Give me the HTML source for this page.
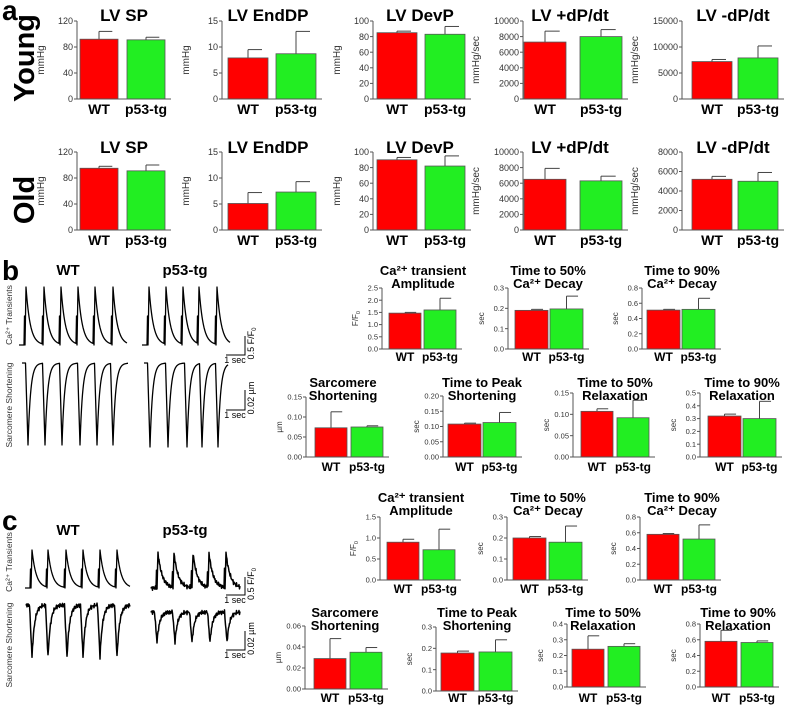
<!DOCTYPE html>
<html><head><meta charset="utf-8"><style>
html,body{margin:0;padding:0;background:#fff;}
svg{display:block;font-family:"Liberation Sans",Arial,sans-serif;}
</style></head><body>
<svg id="fig" width="790" height="707" viewBox="0 0 790 707" xmlns="http://www.w3.org/2000/svg"></svg>
<script>
// ---------- DATA ----------
const categories = ['WT', 'p53-tg'];
// Panel a – young
const youngTitles = ['LV SP', 'LV EndDP', 'LV DevP', 'LV +dP/dt', 'LV -dP/dt'];
const youngMeans = [[92, 91], [7.9, 8.7], [85, 83], [7300, 8000], [7200, 7900]];
const youngErrTops = [[104, 95], [9.5, 13], [87, 93], [8700, 8900], [7600, 10200]];
const youngTicks = [[0, 40, 80, 120], [0, 5, 10, 15], [0, 20, 40, 60, 80, 100], [0, 2000, 4000, 6000, 8000, 10000], [0, 5000, 10000, 15000]];
// Panel a – old
const oldTitles = ['LV SP', 'LV EndDP', 'LV DevP', 'LV +dP/dt', 'LV -dP/dt'];
const oldMeans = [[95, 91], [5.1, 7.3], [90, 82], [6500, 6300], [5200, 5000]];
const oldErrTops = [[98, 100], [7.2, 9.3], [93, 95], [7900, 6900], [5500, 5900]];
const oldTicks = [[0, 40, 80, 120], [0, 5, 10, 15], [0, 20, 40, 60, 80, 100], [0, 2000, 4000, 6000, 8000, 10000], [0, 2000, 4000, 6000, 8000]];
const aUnits = ['mmHg', 'mmHg', 'mmHg', 'mmHg/sec', 'mmHg/sec'];
// Panel b
const bMeans = [[1.47, 1.6], [0.19, 0.197], [0.51, 0.52], [0.073, 0.075], [0.108, 0.113], [0.107, 0.092], [0.32, 0.30]];
const bErrTops = [[1.5, 2.08], [0.195, 0.26], [0.52, 0.665], [0.113, 0.078], [0.111, 0.146], [0.113, 0.133], [0.335, 0.435]];
const bTicks = [['0.0','0.5','1.0','1.5','2.0','2.5'], ['0.0','0.1','0.2','0.3'], ['0.0','0.2','0.4','0.6','0.8'], ['0.00','0.05','0.10','0.15'], ['0.00','0.05','0.10','0.15','0.20'], ['0.00','0.05','0.10','0.15'], ['0.0','0.1','0.2','0.3','0.4','0.5']];
// Panel c
const cMeans = [[0.9, 0.72], [0.2, 0.18], [0.58, 0.52], [0.029, 0.035], [0.178, 0.183], [0.24, 0.258], [0.58, 0.565]];
const cErrTops = [[0.97, 1.21], [0.207, 0.257], [0.59, 0.70], [0.048, 0.0395], [0.187, 0.24], [0.325, 0.275], [0.72, 0.585]];
const cTicks = [['0.0','0.5','1.0','1.5'], ['0.0','0.1','0.2','0.3'], ['0.0','0.2','0.4','0.6','0.8'], ['0.00','0.02','0.04','0.06'], ['0.0','0.1','0.2','0.3'], ['0.0','0.1','0.2','0.3','0.4'], ['0.0','0.2','0.4','0.6','0.8']];
const bcTitles = [['Ca²⁺ transient','Amplitude'], ['Time to 50%','Ca²⁺ Decay'], ['Time to 90%','Ca²⁺ Decay'], ['Sarcomere','Shortening'], ['Time to Peak','Shortening'], ['Time to 50%','Relaxation'], ['Time to 90%','Relaxation']];
const bcUnits = ['F/F0', 'sec', 'sec', 'µm', 'sec', 'sec', 'sec'];
// Trace beat x positions
const bCaWT = [25, 43, 60, 77, 94, 112];
const bCaTG = [148, 165, 182, 198, 216, 232];
const bSarWT = [28, 45, 62, 80, 97, 113];
const bSarTG = [150, 168, 187, 202, 218];
const cCaWT = [31, 47, 65, 82, 99, 116];
const cCaTG = [157, 173, 192, 208, 225];
const cSarWT = [32, 48, 67, 83, 100, 117];
const cSarTG = [157, 175, 192, 210, 227];

// ---------- LAYOUT (pixels) ----------
const aAxisX = [77, 222, 373, 523, 682];
const aRedX = [80, 228, 377, 524, 692];
const aGreenX = [127, 276, 425, 580, 738];
const aBarW = [38, 40, 40, 42, 40];
const aTitleX = [124, 268, 420, 570, 733];

const svg = document.getElementById('fig');
const NS = 'http://www.w3.org/2000/svg';
function mk(tag, attrs, parent) {
  const e = document.createElementNS(NS, tag);
  for (const k in attrs) e.setAttribute(k, attrs[k]);
  (parent || svg).appendChild(e);
  return e;
}
function txt(s, attrs, parent) { const t = mk('text', attrs, parent); t.textContent = s; return t; }

function barChart(o) {
  const g = mk('g', {});
  
  
  const ticks = o.ticks.map(Number);
  const maxV = ticks[ticks.length - 1];
  const y = v => o.bottom - (v / maxV) * (o.bottom - o.top);
  const right = o.gx + o.w + 6;
  const xs = [o.rx, o.gx];
  const fills = ['#ff0000', '#22ee22'];
  for (let i = 0; i < 2; i++) {
    const yt = y(o.means[i]);
    const eb = mk('line', {x1: xs[i] + o.w / 2, x2: xs[i] + o.w / 2, y1: yt, y2: y(o.errs[i]), stroke: '#444', 'stroke-width': 1}, g);
    
    
    const cap = mk('line', {x1: xs[i] + o.w / 2, x2: xs[i] + o.w / 2 + o.w * 0.35, y1: y(o.errs[i]), y2: y(o.errs[i]), stroke: '#444', 'stroke-width': 1}, g);
    
    
    const r = mk('rect', {x: xs[i], y: yt, width: o.w, height: o.bottom - yt, fill: fills[i], stroke: '#555', 'stroke-width': 0.8}, g);
    
    
    const xl = txt(categories[i], {x: xs[i] + o.w / 2, y: o.labY, 'font-size': o.labFs, 'font-weight': 'bold', 'text-anchor': 'middle', fill: '#000'}, g);
    
    
  }
  const ax = mk('path', {d: `M${o.ax},${o.top} V${o.bottom} H${right}`, fill: 'none', stroke: '#555', 'stroke-width': 1}, g);
  
  
  o.ticks.forEach(t => {
    const yy = y(Number(t));
    mk('line', {x1: o.ax - 3, x2: o.ax, y1: yy, y2: yy, stroke: '#555', 'stroke-width': 1}, g);
    const tl = txt(String(t), {x: o.ax - 4, y: yy + o.tickFs * 0.35, 'font-size': o.tickFs, 'text-anchor': 'end', fill: '#333'}, g);
    
    
  });
  const ux = o.unitX, uy = (o.top + o.bottom) / 2;
  const ut = mk('text', {x: ux, y: uy, 'font-size': o.unitFs, 'text-anchor': 'middle', fill: '#333', transform: `rotate(-90 ${ux} ${uy})`}, g);
  if (o.unit === 'F/F0') { ut.textContent = 'F/F'; const s = mk('tspan', {'font-size': o.unitFs * 0.7, dy: 2}, ut); s.textContent = '0'; }
  else ut.textContent = o.unit;
  
  
  o.title.forEach((line, i) => {
    const tt = txt(line, {x: o.tx, y: o.ty + i * o.titleFs * 1.0, 'font-size': o.titleFs, 'font-weight': 'bold', 'text-anchor': 'middle', fill: '#000'}, g);
    
    
  });
}

for (let i = 0; i < 5; i++) {
  barChart({name: 'young-chart-' + (i + 1), ticks: youngTicks[i], means: youngMeans[i], errs: youngErrTops[i], ax: aAxisX[i], rx: aRedX[i], gx: aGreenX[i], w: aBarW[i], top: 21, bottom: 99, labY: 114, labFs: 14, tickFs: 9, unit: aUnits[i], unitX: aAxisX[i] - (i >= 3 ? 44 : 33), unitFs: 10, title: [youngTitles[i]], tx: aTitleX[i], ty: 21, titleFs: 17});
  barChart({name: 'old-chart-' + (i + 1), ticks: oldTicks[i], means: oldMeans[i], errs: oldErrTops[i], ax: aAxisX[i], rx: aRedX[i], gx: aGreenX[i], w: aBarW[i], top: 152, bottom: 230, labY: 245, labFs: 14, tickFs: 9, unit: aUnits[i], unitX: aAxisX[i] - (i >= 3 ? 44 : 33), unitFs: 10, title: [oldTitles[i]], tx: aTitleX[i], ty: 153, titleFs: 17});
}

const bLay = [
  {ax: 382, rx: 389, gx: 424, w: 32, top: 288, bottom: 349, tx: 423, ty: 275, labY: 361},
  {ax: 508, rx: 515, gx: 550, w: 33, top: 288, bottom: 349, tx: 548, ty: 275, labY: 361},
  {ax: 642, rx: 647, gx: 682, w: 33, top: 288, bottom: 349, tx: 682, ty: 275, labY: 361},
  {ax: 306, rx: 315, gx: 351, w: 32, top: 397, bottom: 457, tx: 343, ty: 387, labY: 471},
  {ax: 443, rx: 448, gx: 483, w: 33, top: 396, bottom: 457, tx: 482, ty: 387, labY: 471},
  {ax: 573, rx: 581, gx: 617, w: 32, top: 393, bottom: 457, tx: 615, ty: 387, labY: 471},
  {ax: 700, rx: 708, gx: 743, w: 33, top: 393, bottom: 457, tx: 742, ty: 387, labY: 471}
];
const cLay = [
  {ax: 380, rx: 387, gx: 423, w: 32, top: 517, bottom: 580, tx: 421, ty: 502, labY: 593},
  {ax: 507, rx: 513, gx: 549, w: 33, top: 517, bottom: 580, tx: 548, ty: 502, labY: 593},
  {ax: 640, rx: 647, gx: 683, w: 32, top: 517, bottom: 580, tx: 682, ty: 502, labY: 593},
  {ax: 305, rx: 314, gx: 350, w: 32, top: 626, bottom: 689, tx: 345, ty: 617, labY: 702},
  {ax: 436, rx: 441, gx: 479, w: 33, top: 627, bottom: 691, tx: 477, ty: 617, labY: 702},
  {ax: 567, rx: 572, gx: 608, w: 32, top: 624, bottom: 687, tx: 603, ty: 617, labY: 702},
  {ax: 700, rx: 705, gx: 741, w: 32, top: 624, bottom: 687, tx: 738, ty: 617, labY: 702}
];
for (let i = 0; i < 7; i++) {
  const L = bLay[i];
  barChart(Object.assign({name: 'b-chart-' + (i + 1), ticks: bTicks[i], means: bMeans[i], errs: bErrTops[i], labFs: 12, tickFs: 7.5, unit: bcUnits[i], unitX: L.ax - 24, unitFs: 8, title: bcTitles[i], titleFs: 13}, L));
  const M = cLay[i];
  barChart(Object.assign({name: 'c-chart-' + (i + 1), ticks: cTicks[i], means: cMeans[i], errs: cErrTops[i], labFs: 12, tickFs: 7.5, unit: bcUnits[i], unitX: M.ax - 24, unitFs: 8, title: bcTitles[i], titleFs: 13}, M));
}

function label(s, attrs, name) { const t = txt(s, attrs);   return t; }
label('a', {x: 2, y: 20, 'font-size': 28, 'font-weight': 'bold'}, 'panel-label-a');
label('b', {x: 2, y: 280, 'font-size': 28, 'font-weight': 'bold'}, 'panel-label-b');
label('c', {x: 2, y: 530, 'font-size': 28, 'font-weight': 'bold'}, 'panel-label-c');
label('Young', {x: 24, y: 58, 'font-size': 29, 'font-weight': 'bold', 'text-anchor': 'middle', transform: 'rotate(-90 24 58)', dy: 10}, 'row-label-young');
label('Old', {x: 24, y: 200, 'font-size': 29, 'font-weight': 'bold', 'text-anchor': 'middle', transform: 'rotate(-90 24 200)', dy: 10}, 'row-label-old');

// ---------- Traces ----------
function trace(beats, base, peak, kind, noisy, endX, name) {
  let d = '';
  const start = beats[0] - 6;
  for (let x = start; x <= endX; x += 0.5) {
    let prev = null, next = null;
    for (const b of beats) { if (b <= x) prev = b; else if (next === null) next = b; }
    let f = 0;
    if (kind === 'ca') {
      if (prev !== null) { const dt = x - prev; f = dt < 1 ? dt : Math.exp(-(dt - 1) / 4.2); }
      if (next !== null && next - x < 1) f = Math.max(f, 1 - (next - x));
    } else {
      if (prev !== null) { const dt = x - prev; f = Math.exp(-dt / 2.6); }
      if (next !== null && next - x < 2.5) f = Math.max(f, 1 - (next - x) / 2.5);
    }
    let yy = base + (peak - base) * f;
    if (noisy) yy += Math.sin(x * 7.3) * 1.4 + Math.sin(x * 3.1) * 1.0;
    d += (d ? 'L' : 'M') + x.toFixed(1) + ',' + yy.toFixed(1);
  }
  const p = mk('path', {d, fill: 'none', stroke: '#000', 'stroke-width': noisy ? 1.5 : 1.3, 'stroke-linejoin': 'round'});
  
  
}
trace(bCaWT, 345, 287, 'ca', false, 127, 'b-ca-trace-wt');
trace(bCaTG, 345, 287, 'ca', false, 230, 'b-ca-trace-p53');
trace(bSarWT, 363, 445, 'sar', false, 128, 'b-sarcomere-trace-wt');
trace(bSarTG, 363, 447, 'sar', false, 228, 'b-sarcomere-trace-p53');
trace(cCaWT, 588, 550, 'ca', false, 130, 'c-ca-trace-wt');
trace(cCaTG, 588, 553, 'ca', true, 240, 'c-ca-trace-p53');
trace(cSarWT, 605, 657, 'sar', true, 130, 'c-sarcomere-trace-wt');
trace(cSarTG, 612, 642, 'sar', true, 240, 'c-sarcomere-trace-p53');

[['b', 275], ['c', 535]].forEach(([p, y]) => {
  label('WT', {x: 68, y: y, 'font-size': 15, 'font-weight': 'bold', 'text-anchor': 'middle'}, p + '-trace-header-wt');
  label('p53-tg', {x: 185, y: y, 'font-size': 15, 'font-weight': 'bold', 'text-anchor': 'middle'}, p + '-trace-header-p53');
});
function side(s, cy, name) {
  label(s, {x: 12, y: cy, 'font-size': 8.5, 'text-anchor': 'middle', fill: '#333', transform: `rotate(-90 12 ${cy})`}, name);
}
side('Ca²⁺ Transients', 315, 'b-ca-row-label');
side('Sarcomere Shortening', 405, 'b-sarcomere-row-label');
side('Ca²⁺ Transients', 562, 'c-ca-row-label');
side('Sarcomere Shortening', 645, 'c-sarcomere-row-label');

function scale(hy, vTop, lab1, lab2, name, sub) {
  const p = mk('path', {d: `M226,${hy} H245 V${vTop}`, fill: 'none', stroke: '#000', 'stroke-width': 1});
  
  
  label(lab1, {x: 235, y: hy + 8, 'font-size': 9, 'text-anchor': 'middle'}, name + '-time-label');
  const cy = (hy + vTop) / 2 - 2;
  const t = label(lab2, {x: 254, y: cy, 'font-size': 9, 'text-anchor': 'middle', transform: `rotate(-90 254 ${cy})`}, name + '-amp-label');
  if (sub) { const s = mk('tspan', {'font-size': 6, dy: 2}, t); s.textContent = sub; }
}
scale(355, 336, '1 sec', '0.5 F/F', 'b-ca-scale-bar', '0');
scale(410, 390, '1 sec', '0.02 µm', 'b-sarcomere-scale-bar');
scale(595, 577, '1 sec', '0.5 F/F', 'c-ca-scale-bar', '0');
scale(650, 631, '1 sec', '0.02 µm', 'c-sarcomere-scale-bar');
</script>
</body></html>
